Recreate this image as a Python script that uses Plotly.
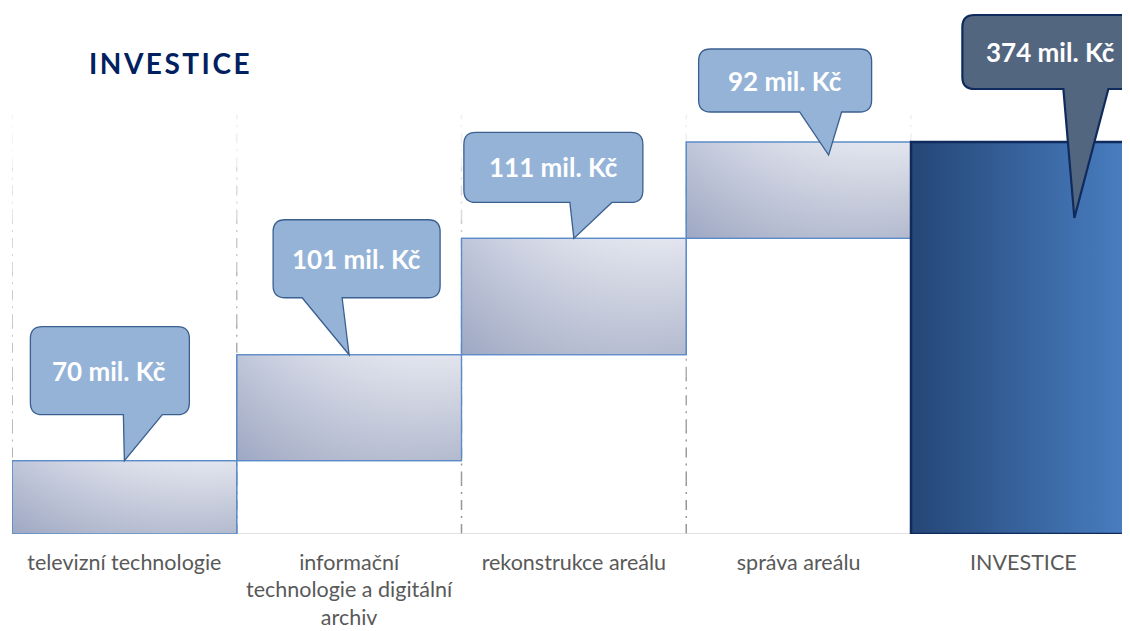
import plotly.graph_objects as go

# data
categories = [
    "televizní technologie",
    "informační<br>technologie a digitální<br>archiv",
    "rekonstrukce areálu",
    "správa areálu",
    "INVESTICE",
]
step_values = [70, 101, 111, 92]
total_value = sum(step_values)
value_labels = [f"{v} mil. Kč" for v in step_values + [total_value]]

# callout geometry in pixels relative to the bar top centre (y up):
# box (left, right, top, bottom), tail base (left, right), tip (dx, dy), text x offset
callouts = [
    ((-94, 65, 134, 46), (-1, 38), (0, 0), -15),
    ((-76, 91, 135, 57), (-47, -7), (0, 0), 7),
    ((-110, 69, 106, 36), (-4, 38), (0, 0), -20),
    ((-100, 73, 93, 30), (1, 43), (30, -13), -14),
    ((-61, 135, 127, 53), (40, 85), (51, -76), 27),
]

FONT = "Lato"
STEP_FILL_V = [[0, "#b3bace"], [1, "#e2e5ee"]]
STEP_FILL_H = [[0, "rgba(110,125,170,0.30)"], [1, "rgba(255,255,255,0)"]]
TOTAL_FILL = [[0, "#254676"], [1, "#4a80c4"]]

# the page puts the figure 8px in from the top left corner
PX_PER_UNIT = 392 / 374
PLOT_H = 526
PLOT_W = 1126
CAT_W = 224.75


def rect(x0, x1, y0, y1):
    return [x0, x1, x1, x0, x0], [y0, y0, y1, y1, y0]


def callout_path(box, base, tip, r=12):
    l, rt, t, b = box
    b0, b1 = base
    tx, ty = tip
    return (
        f"M {l + r} {t} L {rt - r} {t} Q {rt} {t} {rt} {t - r} "
        f"L {rt} {b + r} Q {rt} {b} {rt - r} {b} "
        f"L {b1} {b} L {tx} {ty} L {b0} {b} "
        f"L {l + r} {b} Q {l} {b} {l} {b + r} "
        f"L {l} {t - r} Q {l} {t} {l + r} {t} Z"
    )


fig = go.Figure()

bases, tops = [], []
run = 0
for v in step_values:
    bases.append(run)
    run += v
    tops.append(run)
bases.append(0)
tops.append(total_value)

for i in range(len(step_values)):
    xs, ys = rect(i - 0.5, i + 0.5, bases[i], tops[i])
    fig.add_trace(go.Scatter(
        x=xs, y=ys, mode="lines", fill="toself",
        fillgradient=dict(type="vertical", colorscale=STEP_FILL_V),
        line=dict(color="#5b8bc8", width=1.2), hoverinfo="skip",
    ))
    fig.add_trace(go.Scatter(
        x=xs, y=ys, mode="lines", fill="toself",
        fillgradient=dict(type="horizontal", colorscale=STEP_FILL_H),
        line=dict(color="#5b8bc8", width=1.2), hoverinfo="skip",
    ))

n = len(step_values)
xs, ys = rect(n - 0.5, n + 0.5, 0, total_value)
fig.add_trace(go.Scatter(
    x=xs, y=ys, mode="lines", fill="toself",
    fillgradient=dict(type="horizontal", colorscale=TOTAL_FILL),
    line=dict(color="#0f2a5c", width=2.5), hoverinfo="skip",
))

# dash-dot separators fading out towards the top
grid_top = 400
nseg = 8
for k in range(len(categories)):
    for s in range(nseg):
        y0 = grid_top * s / nseg
        y1 = grid_top * (s + 1) / nseg
        op = 1.0 - 0.85 * (s / (nseg - 1)) ** 1.5
        fig.add_shape(type="line", x0=k - 0.5, x1=k - 0.5, y0=y0, y1=y1,
                      xref="x", yref="y", layer="below",
                      line=dict(color=f"rgba(150,150,150,{op:.2f})", width=1.5,
                                dash="10px,6px,2px,6px"))
fig.add_shape(type="line", x0=-0.5, x1=n + 0.5, y0=0, y1=0, xref="x", yref="y",
              layer="below", line=dict(color="#d9d9d9", width=1.5))

for i, (box, base, tip, tx) in enumerate(callouts):
    total = i == n
    fig.add_shape(
        type="path", xref="x", yref="y",
        xsizemode="pixel", ysizemode="pixel", xanchor=i, yanchor=tops[i],
        path=callout_path(box, base, tip),
        fillcolor="#53667f" if total else "#95b3d7",
        line=dict(color="#0f2a5c" if total else "#3b5f8f", width=2.2 if total else 1.3),
        layer="above",
    )
    l, rt, t, b = box
    fig.add_annotation(
        x=i, y=tops[i], xref="x", yref="y", showarrow=False,
        xshift=tx, yshift=(t + b) / 2,
        text=f"<b>{value_labels[i]}</b>",
        font=dict(family=FONT, size=26, color="white"),
    )

fig.add_annotation(
    x=75 / PLOT_W, y=(PLOT_H - 55) / PLOT_H, xref="paper", yref="paper",
    xanchor="left", yanchor="middle", showarrow=False,
    text='<span style="letter-spacing:2.5px"><b>INVESTICE</b></span>',
    font=dict(family=FONT, size=28, color="#002060"),
)

fig.update_layout(
    width=1130, height=631,
    margin=dict(l=4, r=0, t=0, b=631 - PLOT_H),
    paper_bgcolor="white", plot_bgcolor="white",
    showlegend=False,
    xaxis=dict(
        range=[-0.5, -0.5 + PLOT_W / CAT_W], tickvals=list(range(len(categories))),
        ticktext=categories, showgrid=False, zeroline=False, showline=False,
        ticks="", ticklabelstandoff=13,
        tickfont=dict(family=FONT, size=21.5, color="#595959"),
        fixedrange=True,
    ),
    yaxis=dict(range=[0, PLOT_H / PX_PER_UNIT], visible=False, fixedrange=True),
)

fig.write_html("out.html")
